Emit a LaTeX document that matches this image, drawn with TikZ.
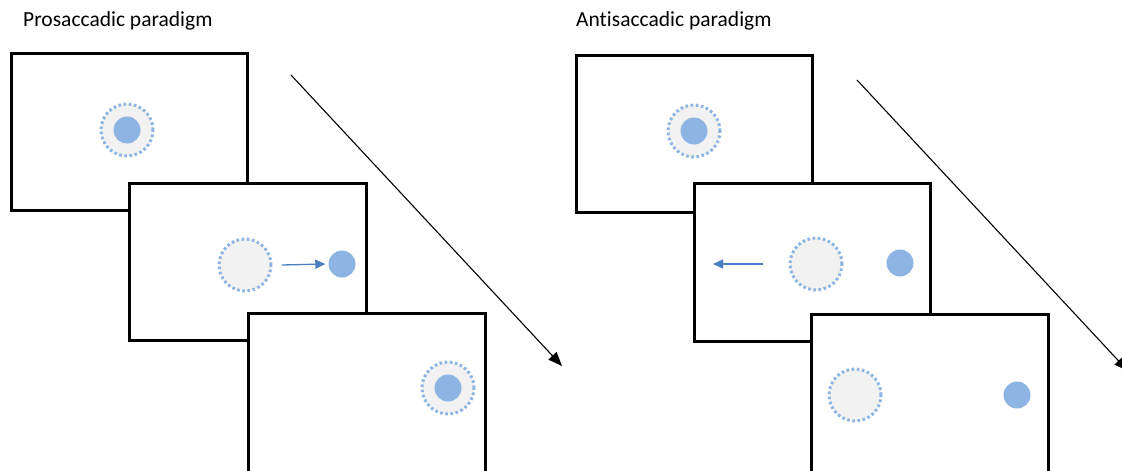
\documentclass[tikz,border=0pt]{standalone}
\usepackage{fontspec}
\setmainfont[Ligatures=NoCommon]{Carlito}
\usetikzlibrary{arrows.meta}
\definecolor{dotblue}{HTML}{8EB4E3}
\definecolor{ringgray}{HTML}{F2F2F2}
\definecolor{arrowblue}{HTML}{4A7EC2}
\tikzset{
  frame/.style={draw=black, line width=3pt, fill=white},
  ring/.style={circle, draw=dotblue, fill=ringgray, line width=3pt, dash pattern=on 2.6pt off 2.6pt, minimum size=52pt, inner sep=0pt},
  target/.style={circle, fill=dotblue, minimum size=27pt, inner sep=0pt},
  movearrow/.style={draw=arrowblue, line width=1.3pt, -{Triangle[length=10pt,width=9pt]}},
  timearrow/.style={draw=black, line width=1.1pt, -{Triangle[length=14pt,width=11pt]}},
  title/.style={anchor=base west, font=\fontsize{21.5pt}{25pt}\selectfont, inner sep=0pt}
}
\begin{document}
\begin{tikzpicture}[x=1pt,y=-1pt]
\useasboundingbox (0,0) rectangle (1122,471);
\clip (0,0) rectangle (1122,471);
% titles
\node[title] (t1) at (23,27) {Prosaccadic paradigm};
\node[title] (t2) at (576,27) {Antisaccadic paradigm};
% left panel
\draw[frame] (11,53) rectangle (247,210);
\node[ring] (l1r) at (127,130) {};
\node[target] (l1t) at (127,130) {};
\draw[frame] (129,183) rectangle (366,340);
\node[ring] (l2r) at (245,265) {};
\node[target] (l2t) at (342,264) {};
\coordinate (l2a) at (282,265);
\draw[movearrow] (l2a) -- ([xshift=-3pt]l2t.west);
\draw[frame] (248,313) rectangle (485,474);
\node[ring] (l3r) at (448,388) {};
\node[target] (l3t) at (448,388) {};
\coordinate (la1) at (291,75);
\coordinate (la2) at (562,366);
\draw[timearrow] (la1) -- (la2);
% right panel
\draw[frame] (576,55) rectangle (812,212);
\node[ring] (r1r) at (694,131) {};
\node[target] (r1t) at (694,131) {};
\draw[frame] (694,183) rectangle (930,341);
\node[ring] (r2r) at (816,264) {};
\node[target] (r2t) at (900,263) {};
\coordinate (r2a1) at (763,264);
\coordinate (r2a2) at (713,264);
\draw[movearrow] (r2a1) -- (r2a2);
\draw[frame] (811,314) rectangle (1048,474);
\node[ring] (r3r) at (855,395) {};
\node[target] (r3t) at (1017,395) {};
\coordinate (ra1) at (857,80);
\coordinate (ra2) at (1128,371);
\draw[timearrow] (ra1) -- (ra2);
\end{tikzpicture}
\end{document}
